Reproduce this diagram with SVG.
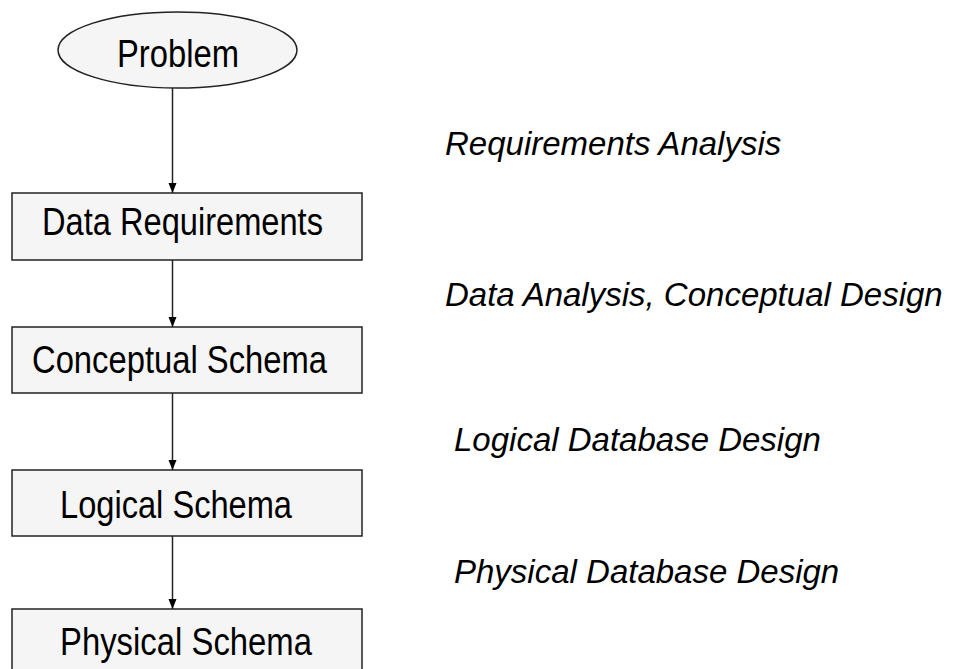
<svg xmlns="http://www.w3.org/2000/svg" width="956" height="669" viewBox="0 0 956 669">
<defs>
<marker id="ah" markerWidth="10" markerHeight="11" refX="10" refY="5" orient="auto" markerUnits="userSpaceOnUse">
<path d="M0,1 L10,5 L0,9 Z" fill="#000"/>
</marker>
<style>
.node{fill:#f5f5f5;stroke:#222;stroke-width:1.5}
.nt{font-family:"Liberation Sans Narrow","Liberation Sans",Arial,sans-serif;font-size:38px;fill:#000}
.lbl{font-family:"Liberation Sans",Arial,sans-serif;font-style:italic;font-size:33px;fill:#000}
.edge{stroke:#222;stroke-width:1.5;fill:none;marker-end:url(#ah)}
</style>
</defs>
<rect width="956" height="669" fill="#fff"/>
<g id="connectors">
<line class="edge" x1="172.5" y1="88" x2="172.5" y2="193"/>
<line class="edge" x1="172.5" y1="260" x2="172.5" y2="327"/>
<line class="edge" x1="172.5" y1="393" x2="172.5" y2="470"/>
<line class="edge" x1="172.5" y1="536" x2="172.5" y2="609"/>
</g>
<g id="problem">
<ellipse class="node" cx="177.5" cy="50" rx="119.5" ry="38"/>
<text class="nt" x="117" y="67" font-size="34" textLength="122" lengthAdjust="spacingAndGlyphs">Problem</text>
</g>
<g id="data-requirements">
<rect class="node" x="12" y="193" width="350" height="67"/>
<text class="nt" x="42" y="235" textLength="281" lengthAdjust="spacingAndGlyphs">Data Requirements</text>
</g>
<g id="conceptual-schema">
<rect class="node" x="12" y="327" width="350" height="66"/>
<text class="nt" x="32" y="373" textLength="295" lengthAdjust="spacingAndGlyphs">Conceptual Schema</text>
</g>
<g id="logical-schema">
<rect class="node" x="12" y="470" width="350" height="66"/>
<text class="nt" x="60" y="518" textLength="232" lengthAdjust="spacingAndGlyphs">Logical Schema</text>
</g>
<g id="physical-schema">
<rect class="node" x="12" y="609" width="350" height="80"/>
<text class="nt" x="60" y="655" textLength="252" lengthAdjust="spacingAndGlyphs">Physical Schema</text>
</g>
<g id="labels">
<text class="lbl" x="445" y="155">Requirements Analysis</text>
<text class="lbl" x="445" y="306">Data Analysis, Conceptual Design</text>
<text class="lbl" x="454" y="451">Logical Database Design</text>
<text class="lbl" x="454" y="583">Physical Database Design</text>
</g>
</svg>
